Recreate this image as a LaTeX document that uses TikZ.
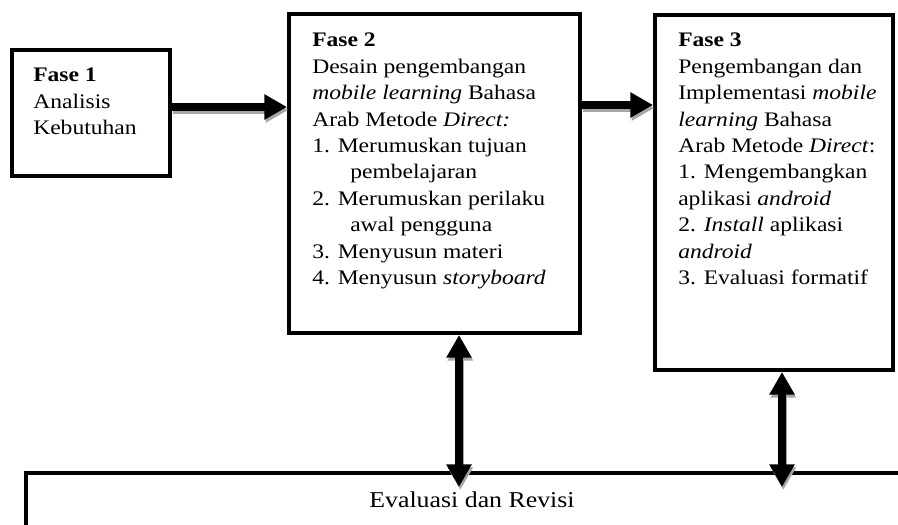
\documentclass[tikz,border=0pt]{standalone}
\usepackage{fontspec}
\setmainfont{Liberation Serif}[FakeStretch=1.14]
\usetikzlibrary{arrows.meta,fit}
\begin{document}
\begin{tikzpicture}[x=0.75pt,y=-0.75pt,
  box/.style={draw, line width=3pt, inner sep=0pt},
  txt/.style={anchor=base west, inner sep=0pt, font=\fontsize{15.5}{19.8}\selectfont},
  arr/.style={line width=6pt, -{Triangle[length=17pt,width=18pt]}},
  darr/.style={line width=6pt, {Triangle[length=17pt,width=18pt]}-{Triangle[length=17pt,width=18pt]}},
  shd/.style={draw=gray!70, fill=gray!70, transform canvas={shift={(1pt,-2.25pt)}}},
]
\useasboundingbox (0,0) rectangle (898,524);
% boxes
\node[box, fit={(12,50) (170,176)}] (b1) {};
\node[box, fit={(289,14) (580,333)}] (b2) {};
\node[box, fit={(655,15) (893,370)}] (b3) {};
\node[box, fit={(26,473) (1000,640)}] (ev) {};
% texts
\node[txt] (t1) at (33,82) {\begin{tabular}[t]{@{}l@{}}
\textbf{Fase 1}\\
Analisis\\
Kebutuhan
\end{tabular}};
\node[txt] (t2) at (312,47) {\begin{tabular}[t]{@{}l@{}}
\textbf{Fase 2}\\
Desain pengembangan\\
\textit{mobile learning} Bahasa\\
Arab Metode \textit{Direct:}\\
1. Merumuskan tujuan\\
\hspace*{28.5pt}pembelajaran\\
2. Merumuskan perilaku\\
\hspace*{28.5pt}awal pengguna\\
3. Menyusun materi\\
4. Menyusun \textit{storyboard}
\end{tabular}};
\node[txt] (t3) at (678,47) {\begin{tabular}[t]{@{}l@{}}
\textbf{Fase 3}\\
Pengembangan dan\\
Implementasi \textit{mobile}\\
\textit{learning} Bahasa\\
Arab Metode \textit{Direct}:\\
1. Mengembangkan\\
aplikasi \textit{android}\\
2. \textit{Install} aplikasi\\
\textit{android}\\
3. Evaluasi formatif
\end{tabular}};
\node[anchor=base, inner sep=0pt, font=\fontsize{17}{19}\selectfont] (evt) at (472,507) {Evaluasi dan Revisi};
% free ends of the vertical arrows
\coordinate (e1) at (459,487);
\coordinate (e2) at (782,487);
% horizontal arrows
\draw[arr, shd] ([yshift=-44.25pt]b1.north east) -- ([yshift=-71.25pt]b2.north west);
\draw[arr] ([yshift=-44.25pt]b1.north east) -- ([yshift=-71.25pt]b2.north west);
\draw[arr, shd] ([yshift=-69.75pt]b2.north east) -- ([yshift=-69pt]b3.north west);
\draw[arr] ([yshift=-69.75pt]b2.north east) -- ([yshift=-69pt]b3.north west);
% vertical double arrows
\draw[darr, shd] (b2.south -| e1) -- (e1);
\draw[darr] (b2.south -| e1) -- (e1);
\draw[darr, shd] (b3.south -| e2) -- (e2);
\draw[darr] (b3.south -| e2) -- (e2);
\end{tikzpicture}
\end{document}
